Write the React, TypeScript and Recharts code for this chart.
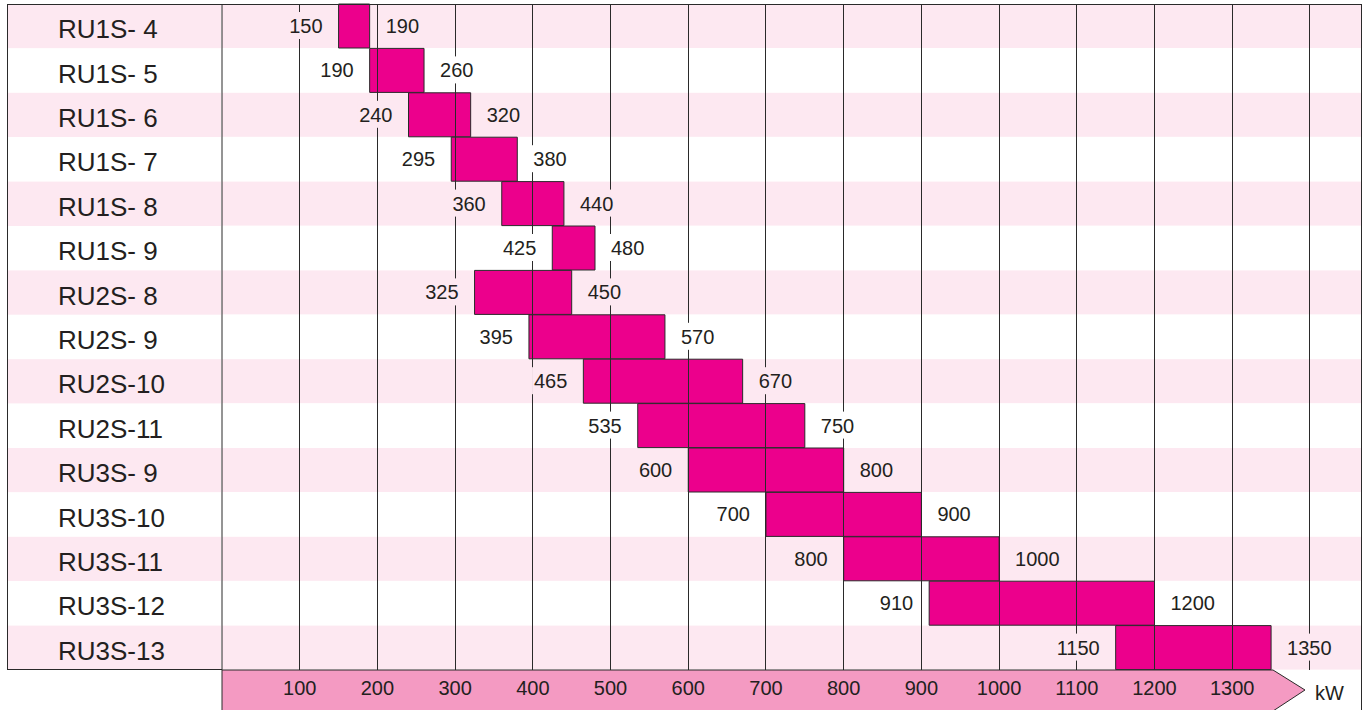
import React from 'react';
import {
  BarChart,
  Bar,
  XAxis,
  YAxis,
  ReferenceLine,
  LabelList,
} from 'recharts';

const models = [
  'RU1S- 4', 'RU1S- 5', 'RU1S- 6', 'RU1S- 7', 'RU1S- 8', 'RU1S- 9',
  'RU2S- 8', 'RU2S- 9', 'RU2S-10', 'RU2S-11',
  'RU3S- 9', 'RU3S-10', 'RU3S-11', 'RU3S-12', 'RU3S-13',
];
const minKw = [150, 190, 240, 295, 360, 425, 325, 395, 465, 535, 600, 700, 800, 910, 1150];
const maxKw = [190, 260, 320, 380, 440, 480, 450, 570, 670, 750, 800, 900, 1000, 1200, 1350];
const kwTicks = [100, 200, 300, 400, 500, 600, 700, 800, 900, 1000, 1100, 1200, 1300];
const gridKw = [100, 200, 300, 400, 500, 600, 700, 800, 900, 1000, 1100, 1200, 1300, 1400];
const unitLabel = 'kW';

const data = models.map((name, i) => ({ name, min: minKw[i], max: maxKw[i] }));

const W = 1368;
const H = 710;
const M = { top: 4, right: 6, bottom: 0, left: 7 };
const LABEL_W = 215;
const AXIS_H = 40;
const PLOT_LEFT = M.left + LABEL_W;
const PLOT_RIGHT = W - M.right;
const PLOT_BOTTOM = H - AXIS_H;
const ROW_H = (PLOT_BOTTOM - M.top) / models.length;

const PINK_ROW = '#fde8f1';
const BAND = '#f49ac2';
const MAGENTA = '#ec008c';
const INK = '#231f20';
const LINE = '#2a2a2a';
const FONT = '"Liberation Sans", Arial, sans-serif';

const rowFill = (i: number) => (i % 2 === 0 ? PINK_ROW : '#ffffff');

const RowTick = (props: any) => {
  const { x, y, index, payload } = props;
  return (
    <g>
      <rect x={x - LABEL_W} y={y - ROW_H / 2} width={LABEL_W - 1} height={ROW_H} fill={rowFill(index)} />
      <text x={x - 164} y={y + 12} fontSize={26} fill={INK} fontFamily={FONT}>
        {payload.value}
      </text>
    </g>
  );
};

const KwTick = (props: any) => {
  const { x, y, index, payload } = props;
  const rectEnd = PLOT_RIGHT - 89;
  const tip = PLOT_RIGHT - 57;
  return (
    <g>
      {index === 0 && (
        <g>
          <polygon
            points={`${PLOT_LEFT},${y} ${rectEnd},${y} ${tip},${y + 20} ${rectEnd},${y + 41} ${PLOT_LEFT},${y + 41}`}
            fill={BAND}
            stroke={LINE}
            strokeWidth={1}
          />
          <line x1={PLOT_RIGHT - 0.5} x2={PLOT_RIGHT - 0.5} y1={y} y2={H} stroke={LINE} />
          <text x={PLOT_RIGHT - 47} y={y + 30} fontSize={20} fill={INK} fontFamily={FONT}>
            {unitLabel}
          </text>
        </g>
      )}
      <text x={x} y={y + 25} textAnchor="middle" fontSize={20} fill={INK} fontFamily={FONT}>
        {payload.value}
      </text>
    </g>
  );
};

const labelBox = (cx: number, cy: number, text: string, anchor: 'start' | 'end', fill: string) => {
  const tw = text.length * 11.1;
  const bx = anchor === 'end' ? cx - tw - 2 : cx - 2;
  return (
    <g>
      <rect x={bx} y={cy - 14} width={tw + 4} height={27} fill={fill} />
      <text x={cx} y={cy + 7} textAnchor={anchor} fontSize={20} fill={INK} fontFamily={FONT}>
        {text}
      </text>
    </g>
  );
};

const RangeLabels = (props: any) => {
  const { index } = props;
  const x = Number(props.x);
  const y = Number(props.y);
  const w = Number(props.width);
  const h = Number(props.height);
  const cy = y + h / 2;
  const fill = rowFill(index);
  return (
    <g>
      {labelBox(x - 16, cy, String(minKw[index]), 'end', fill)}
      {labelBox(x + w + 16, cy, String(maxKw[index]), 'start', fill)}
    </g>
  );
};

const App: React.FC = () => {
  return (
    <div style={{ position: 'fixed', left: 0, top: 0, width: W, height: H, background: '#fff', fontFamily: FONT }}>
      <BarChart
        width={W}
        height={H}
        data={data}
        layout="vertical"
        margin={M}
        barCategoryGap={0}
      >
        <XAxis
          type="number"
          domain={[0, 1467]}
          ticks={kwTicks}
          allowDataOverflow
          height={AXIS_H}
          axisLine={false}
          tickLine={false}
          tickSize={0}
          tickMargin={0}
          tick={<KwTick />}
          interval={0}
        />
        <YAxis
          type="category"
          dataKey="name"
          width={LABEL_W}
          tickLine={false}
          tickSize={0}
          tickMargin={0}
          axisLine={{ stroke: LINE }}
          tick={<RowTick />}
          interval={0}
        />
        <Bar
          dataKey={(d: any) => [d.min, d.max]}
          fill={MAGENTA}
          stroke={LINE}
          strokeWidth={1}
          isAnimationActive={false}
          background={(p: any) => (
            <rect key={`bg-${p.index}`} x={p.x} y={p.y} width={p.width} height={p.height} fill={rowFill(p.index)} />
          )}
        >
          <LabelList dataKey="max" content={<RangeLabels />} />
        </Bar>
        {gridKw.map((v) => (
          <ReferenceLine key={v} x={v} stroke={LINE} strokeWidth={1} shapeRendering="crispEdges" />
        ))}
      </BarChart>
      <div
        style={{
          position: 'absolute',
          left: M.left,
          top: M.top,
          width: PLOT_RIGHT - M.left,
          height: PLOT_BOTTOM - M.top,
          border: `1px solid ${LINE}`,
          borderBottom: 'none',
          boxSizing: 'border-box',
          pointerEvents: 'none',
        }}
      />
      <div
        style={{
          position: 'absolute',
          left: M.left,
          top: PLOT_BOTTOM - 1,
          width: LABEL_W,
          height: 1,
          background: LINE,
        }}
      />
    </div>
  );
};

export default App;
